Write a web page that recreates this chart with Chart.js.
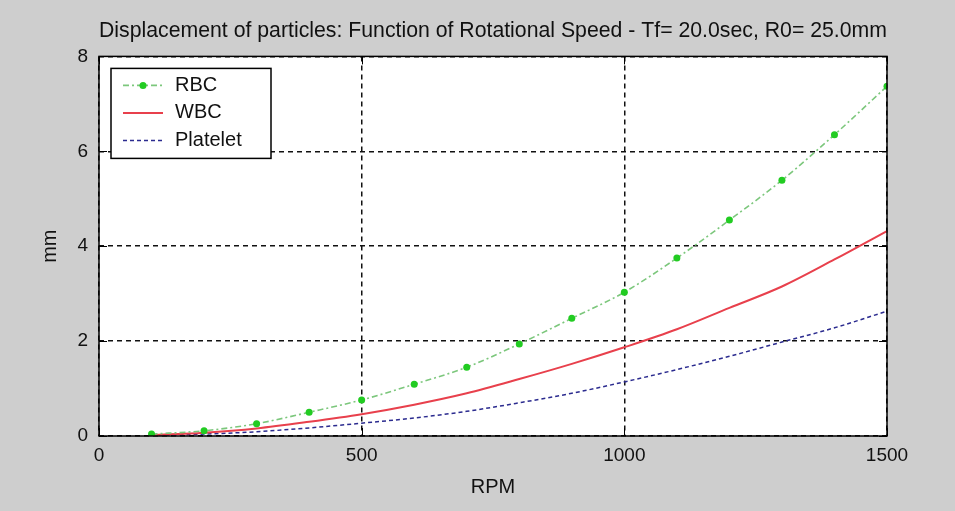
<!DOCTYPE html>
<html>
<head>
<meta charset="utf-8">
<script src="https://cdn.jsdelivr.net/npm/chart.js@4/dist/chart.umd.min.js"></script>
<style>
  html, body { margin: 0; padding: 0; background: #cecece; }
  #wrap { width: 955px; height: 511px; }
</style>
</head>
<body>
<div id="wrap"><canvas id="grafico"></canvas></div>
<script>
// Dados
const rpm      = [100, 200, 300, 400, 500, 600, 700, 800, 900, 1000, 1100, 1200, 1300, 1400, 1500];
const rbc      = [0.04, 0.11, 0.26, 0.50, 0.76, 1.09, 1.45, 1.94, 2.48, 3.03, 3.75, 4.55, 5.39, 6.35, 7.37];
const wbc      = [0.02, 0.07, 0.16, 0.30, 0.46, 0.66, 0.90, 1.20, 1.52, 1.87, 2.25, 2.70, 3.15, 3.72, 4.32];
const platelet = [0.01, 0.04, 0.09, 0.17, 0.27, 0.38, 0.52, 0.70, 0.90, 1.14, 1.40, 1.68, 1.98, 2.28, 2.63];
const xTicks = [0, 500, 1000, 1500];
const yTicks = [0, 2, 4, 6, 8];

const FONTE = '"Liberation Sans", Arial, sans-serif';
const CINZA = '#cecece';

const pares = (ys) => rpm.map((x, i) => ({ x: x, y: ys[i] }));

// Fundo cinza, área branca, borda preta, marcas internas e legenda
const estiloMatlab = {
    id: 'estiloMatlab',
    beforeDraw(chart) {
        const { ctx, chartArea: a } = chart;
        ctx.save();
        ctx.fillStyle = CINZA;
        ctx.fillRect(0, 0, chart.width, chart.height);
        ctx.fillStyle = '#ffffff';
        ctx.fillRect(a.left, a.top, a.right - a.left, a.bottom - a.top);
        ctx.restore();
    },
    afterDraw(chart) {
        const { ctx, chartArea: a, scales } = chart;
        ctx.save();
        ctx.strokeStyle = '#000';
        ctx.lineWidth = 1.5;
        ctx.setLineDash([]);
        ctx.strokeRect(a.left, a.top, a.right - a.left, a.bottom - a.top);

        // marcas internas
        ctx.lineWidth = 1;
        const t = 8;
        ctx.beginPath();
        xTicks.forEach(v => {
            const px = Math.round(scales.x.getPixelForValue(v)) + 0.5;
            ctx.moveTo(px, a.bottom); ctx.lineTo(px, a.bottom - t);
            ctx.moveTo(px, a.top); ctx.lineTo(px, a.top + t);
        });
        yTicks.forEach(v => {
            const py = Math.round(scales.y.getPixelForValue(v)) + 0.5;
            ctx.moveTo(a.left, py); ctx.lineTo(a.left + t, py);
            ctx.moveTo(a.right, py); ctx.lineTo(a.right - t, py);
        });
        ctx.stroke();

        // legenda
        const bx = a.left + 12, by = a.top + 12, bw = 160, bh = 90;
        ctx.fillStyle = '#ffffff';
        ctx.fillRect(bx, by, bw, bh);
        ctx.strokeStyle = '#000';
        ctx.lineWidth = 1.5;
        ctx.strokeRect(bx, by, bw, bh);
        ctx.font = '20px ' + FONTE;
        ctx.textBaseline = 'middle';
        ctx.fillStyle = '#111';
        chart.data.datasets.forEach((ds, i) => {
            const y = by + 17 + i * 27.5;
            ctx.save();
            ctx.strokeStyle = ds.borderColor;
            ctx.lineWidth = ds.borderWidth;
            ctx.setLineDash(ds.borderDash || []);
            ctx.beginPath();
            ctx.moveTo(bx + 12, y);
            ctx.lineTo(bx + 52, y);
            ctx.stroke();
            if (ds.pointRadius > 0) {
                ctx.fillStyle = ds.pointBackgroundColor;
                ctx.beginPath();
                ctx.arc(bx + 32, y, ds.pointRadius, 0, Math.PI * 2);
                ctx.fill();
            }
            ctx.restore();
            ctx.fillText(ds.label, bx + 64, y);
        });
        ctx.restore();
    }
};

const config = {
    type: 'line',
    data: {
        datasets: [
            {
                label: 'RBC',
                data: pares(rbc),
                borderColor: '#7cc77c',
                borderWidth: 1.6,
                borderDash: [6, 3, 2, 3],
                pointRadius: 3.5,
                pointBackgroundColor: '#22cc22',
                pointBorderWidth: 0,
                cubicInterpolationMode: 'monotone'
            },
            {
                label: 'WBC',
                data: pares(wbc),
                borderColor: '#e8404c',
                borderWidth: 2,
                pointRadius: 0,
                cubicInterpolationMode: 'monotone'
            },
            {
                label: 'Platelet',
                data: pares(platelet),
                borderColor: '#2b2b8f',
                borderWidth: 1.5,
                borderDash: [4, 3],
                pointRadius: 0,
                cubicInterpolationMode: 'monotone'
            }
        ]
    },
    options: {
        responsive: true,
        maintainAspectRatio: false,
        animation: false,
        layout: { padding: { left: 0, right: 68, top: 0, bottom: 0 } },
        plugins: {
            legend: { display: false },
            tooltip: { enabled: false },
            title: {
                display: true,
                fullSize: false,
                text: 'Displacement of particles: Function of Rotational Speed - Tf= 20.0sec, R0= 25.0mm',
                color: '#111',
                font: { family: FONTE, size: 22, weight: 'normal', lineHeight: 1.2 },
                padding: { top: 18, bottom: 12 }
            }
        },
        scales: {
            x: {
                type: 'linear',
                min: 0,
                max: 1500,
                afterFit: (s) => { s.height = 75; },
                afterBuildTicks: (s) => { s.ticks = xTicks.map(v => ({ value: v })); },
                ticks: {
                    color: '#111',
                    padding: 8,
                    maxRotation: 0,
                    font: { family: FONTE, size: 19 },
                    callback: (v) => String(v)
                },
                grid: { color: '#111', lineWidth: 1.5, drawTicks: false },
                border: { display: false, dash: [5, 4] },
                title: {
                    display: true,
                    text: 'RPM',
                    color: '#111',
                    font: { family: FONTE, size: 20 },
                    padding: { top: 0, bottom: 12 }
                }
            },
            y: {
                min: 0,
                max: 8,
                afterFit: (s) => { s.width = 99; },
                afterBuildTicks: (s) => { s.ticks = yTicks.map(v => ({ value: v })); },
                ticks: {
                    color: '#111',
                    padding: 11,
                    font: { family: FONTE, size: 19 },
                    callback: (v) => String(v)
                },
                grid: { color: '#111', lineWidth: 1.5, drawTicks: false },
                border: { display: false, dash: [5, 4] },
                title: {
                    display: true,
                    text: 'mm',
                    color: '#111',
                    font: { family: FONTE, size: 20 },
                    padding: { top: 38, bottom: 0 }
                }
            }
        }
    },
    plugins: [estiloMatlab]
};

new Chart(document.getElementById('grafico'), config);
</script>
</body>
</html>
